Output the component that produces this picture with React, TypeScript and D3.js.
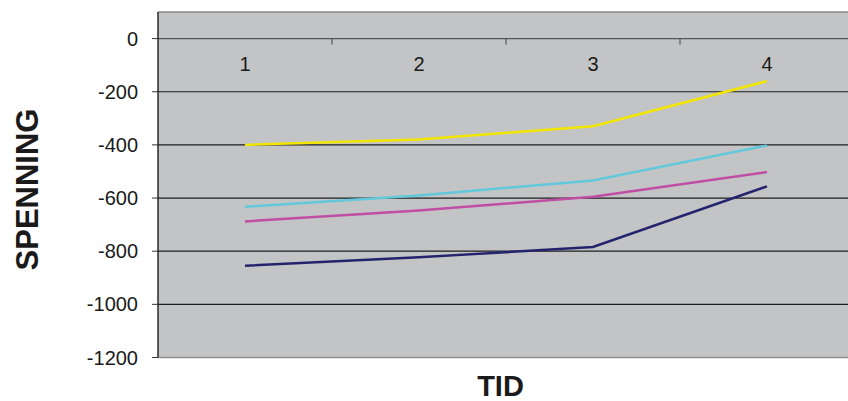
import React from "react";
import * as d3 from "d3";

const categories = ["1", "2", "3", "4"];
const yTicks = [0, -200, -400, -600, -800, -1000, -1200];
const seriesNames = ["A", "B", "C", "D"];
const yellowValues = [-400, -380, -330, -160];
const cyanValues = [-633, -590, -534, -402];
const magentaValues = [-688, -647, -595, -502];
const navyValues = [-855, -823, -784, -556];
const seriesColors = ["#f2e600", "#62c8dc", "#c04ea4", "#24246e"];

const W = 848;
const H = 401;
const left = 158;
const right = 854;
const top = 12;
const bottom = 357.5;

export default function App() {
  const series = [yellowValues, cyanValues, magentaValues, navyValues];
  const x = d3.scaleBand<string>().domain(categories).range([left, right]);
  const y = d3.scaleLinear().domain([-1200, 100]).range([bottom, top]);
  const line = d3
    .line<number>()
    .x((_, i) => (x(categories[i]) as number) + x.bandwidth() / 2)
    .y((d) => y(d));
  const font = "'Liberation Sans', Arial, sans-serif";
  return (
    <svg
      width={W}
      height={H}
      style={{ position: "absolute", left: 0, top: 0, display: "block" }}
      fontFamily={font}
    >
      <rect x={0} y={0} width={W} height={H} fill="#ffffff" />
      <rect x={left} y={top} width={right - left} height={bottom - top} fill="#c3c4c6" />
      <line x1={left} x2={right} y1={top} y2={top} stroke="#8a8a8a" strokeWidth={1.5} />
      <line x1={left} x2={right} y1={bottom} y2={bottom} stroke="#8f8f8f" strokeWidth={1.5} />
      {yTicks.map((t) => (
        <g key={t}>
          {t !== 0 && t !== -1200 && (
            <line x1={left} x2={right} y1={y(t)} y2={y(t)} stroke="#1e1e1e" strokeWidth={1.2} />
          )}
          <line x1={left - 6} x2={left} y1={y(t)} y2={y(t)} stroke="#333" strokeWidth={1} />
          <text x={138} y={y(t)} dy="0.35em" textAnchor="end" fontSize={20} fill="#1a1a1a">
            {t}
          </text>
        </g>
      ))}
      {/* category axis at 0 */}
      <line x1={left} x2={right} y1={y(0)} y2={y(0)} stroke="#555" strokeWidth={1.3} />
      {categories.map((c, i) => (
        <g key={c}>
          {i > 0 && (
            <line
              x1={x(c) as number}
              x2={x(c) as number}
              y1={y(0)}
              y2={y(0) + 6}
              stroke="#444"
              strokeWidth={1}
            />
          )}
          <text
            x={(x(c) as number) + x.bandwidth() / 2}
            y={y(0) + 32}
            textAnchor="middle"
            fontSize={20}
            fill="#1a1a1a"
          >
            {c}
          </text>
        </g>
      ))}
      <line x1={left} x2={left} y1={top} y2={bottom} stroke="#2a2a2a" strokeWidth={1.5} />
      {series.map((s, i) => (
        <path
          key={seriesNames[i]}
          d={line(s) as string}
          fill="none"
          stroke={seriesColors[i]}
          strokeWidth={2.5}
        />
      ))}
      <text
        x={500.5}
        y={396}
        textAnchor="middle"
        fontSize={29}
        fontWeight="bold"
        fill="#1a1a1a"
      >
        TID
      </text>
      <text
        transform={`translate(38,189.5) rotate(-90)`}
        textAnchor="middle"
        fontSize={31}
        fontWeight="bold"
        fill="#1a1a1a"
      >
        SPENNING
      </text>
    </svg>
  );
}
